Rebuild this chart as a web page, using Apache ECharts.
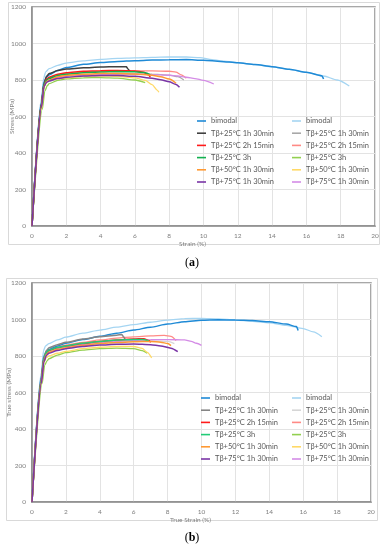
<!DOCTYPE html>
<html><head><meta charset="utf-8">
<script src="https://cdn.jsdelivr.net/npm/echarts@6/dist/echarts.min.js"></script>
<style>html,body{margin:0;padding:0;background:#fff}#c{width:386px;height:550px}</style>
</head><body><div id="c"></div>
<script>
// ---- legend labels / ticks ----
const labels = ['bimodal','Tβ+25°C 1h 30min','Tβ+25°C 2h 15min','Tβ+25°C 3h','Tβ+50°C 1h 30min','Tβ+75°C 1h 30min'];
const xTicks = {min:0, max:20, interval:2};
const yTicks = {min:0, max:1200, interval:200};

// ---- chart (a): engineering stress-strain [strain %, stress MPa] ----
const a_bimodal_d = [[0,0],[0.55,680],[0.7,790],[0.85,815],[1,828],[1.5,852],[2,868],[3,886],[4,896],[5,902],[6,906],[7,909],[8,911],[9,912],[10,908],[11,902],[12,894],[13,885],[14,873],[15,859],[16,842],[16.9,823],[17,805]];
const a_bimodal_l = [[0,0],[0.55,700],[0.68,810],[0.8,845],[1,862],[1.5,880],[2,893],[3,905],[4,913],[5,918],[6,921],[7,924],[8,926],[9,926],[9.8,923],[10.5,912],[11,905],[12,895],[13,884],[14,872],[15,858],[16,842],[17,822],[17.8,800],[18.5,767]];
const a_1h30_d = [[0,0],[0.55,670],[0.7,780],[0.85,820],[1,835],[1.5,852],[2,860],[3,867],[4,871],[5,873],[5.5,872],[5.6,860],[5.7,846]];
const a_1h30_l = [[0,0],[0.55,650],[0.7,770],[0.85,800],[1,810],[1.5,820],[2,825],[3,830],[4,832],[5,833],[6,833],[7,832],[8,827],[8.5,818],[8.85,800]];
const a_2h15_d = [[0,0],[0.55,665],[0.7,775],[0.85,805],[1,815],[1.5,832],[2,840],[3,848],[4,851],[5,852],[6,850],[6.5,842],[6.8,828],[6.9,815]];
const a_2h15_l = [[0,0],[0.55,665],[0.7,780],[0.85,805],[1,812],[1.5,828],[2,835],[3,843],[4,847],[5,849],[6,850],[7,850],[8,848],[8.4,843],[8.7,828],[9.0,809]];
const a_3h_d = [[0,0],[0.55,660],[0.7,775],[0.85,800],[1,808],[1.5,825],[2,832],[3,840],[4,844],[5,846],[6,845],[6.6,840],[6.9,828]];
const a_3h_l = [[0,0],[0.6,640],[0.75,740],[0.9,770],[1,780],[1.5,798],[2,806],[3,812],[4,813],[5,810],[6,800],[6.6,785]];
const a_50_d = [[0,0],[0.55,650],[0.7,765],[0.85,792],[1,800],[1.5,818],[2,825],[3,832],[4,835],[5,835],[6,833],[7,826],[7.5,818],[8,805],[8.4,782]];
const a_50_l = [[0,0],[0.55,640],[0.7,760],[0.85,788],[1,795],[1.5,806],[2,812],[3,820],[4,822],[5,820],[6,812],[6.6,798],[7,775],[7.3,745],[7.4,733]];
const a_75_d = [[0,0],[0.55,650],[0.7,765],[0.85,788],[1,795],[1.5,808],[2,815],[3,822],[4,825],[5,825],[6,820],[7,810],[7.5,802],[8,790],[8.4,775],[8.6,760]];
const a_75_l = [[0,0],[0.55,650],[0.7,768],[0.85,792],[1,800],[1.5,813],[2,820],[3,827],[4,830],[5,832],[6,832],[7,830],[8,826],[8.5,822],[9,815],[9.5,808],[10,798],[10.6,778]];

// ---- chart (b): true stress-strain [true strain %, true stress MPa] ----
const b_bimodal_d = [[0,0],[0.55,690],[0.7,800],[0.85,825],[1,836],[1.5,855],[2,870],[3,890],[4,908],[5,925],[6,942],[7,958],[8,975],[9,988],[10,996],[11,998],[12,997],[13,994],[14,988],[15,975],[15.6,961],[15.7,940]];
const b_bimodal_l = [[0,0],[0.55,710],[0.68,830],[0.8,855],[1,868],[1.5,888],[2,903],[3,925],[4,942],[5,958],[6,972],[7,985],[8,997],[9,1005],[10,1006],[11,1003],[12,997],[13,990],[14,982],[15,968],[16,950],[16.6,932],[17.1,906]];
const b_1h30_d = [[0,0],[0.55,680],[0.7,790],[0.85,830],[1,845],[1.5,862],[2,875],[3,893],[4,905],[5,914],[5.3,918],[5.4,905],[5.5,890]];
const b_1h30_l = [[0,0],[0.55,660],[0.7,780],[0.85,815],[1,825],[1.5,840],[2,850],[3,862],[4,870],[5,876],[6,880],[7,882],[8,880],[8.4,868]];
const b_2h15_d = [[0,0],[0.55,670],[0.7,785],[0.85,818],[1,830],[1.5,845],[2,855],[3,868],[4,880],[5,888],[6,893],[6.6,895],[6.9,885],[7.0,875]];
const b_2h15_l = [[0,0],[0.55,670],[0.7,788],[0.85,822],[1,835],[1.5,850],[2,860],[3,875],[4,888],[5,898],[6,905],[7,910],[7.8,913],[8.2,908],[8.5,885]];
const b_3h_d = [[0,0],[0.55,668],[0.7,785],[0.85,820],[1,832],[1.5,846],[2,855],[3,870],[4,880],[5,887],[6,890],[6.5,890],[6.9,882]];
const b_3h_l = [[0,0],[0.6,650],[0.75,750],[0.9,775],[1,785],[1.5,805],[2,818],[3,832],[4,840],[5,843],[6,840],[6.5,830],[6.8,815]];
const b_50_d = [[0,0],[0.55,655],[0.7,772],[0.85,808],[1,820],[1.5,835],[2,845],[3,858],[4,868],[5,874],[6,878],[7,880],[7.6,876],[8.0,868],[8.2,857]];
const b_50_l = [[0,0],[0.55,645],[0.7,765],[0.85,792],[1,800],[1.5,815],[2,825],[3,840],[4,848],[5,852],[6,852],[6.5,842],[6.8,820],[7.06,790]];
const b_75_d = [[0,0],[0.55,650],[0.7,768],[0.85,803],[1,815],[1.5,830],[2,840],[3,852],[4,860],[5,864],[6,866],[7,862],[7.6,855],[8.2,843],[8.6,824]];
const b_75_l = [[0,0],[0.55,655],[0.7,772],[0.85,808],[1,820],[1.5,836],[2,848],[3,862],[4,872],[5,880],[6,886],[7,889],[8,890],[9,888],[9.4,880],[9.7,870],[10,858]];

// ---- colours ----
const colA_d = ['#1f8ad6','#404040','#ff1a1a','#12b04f','#ff9933','#7a35a6'];
const colA_l = ['#a5d5f2','#a8a8a8','#ff8a85','#92d050','#ffd966','#d48ce6'];
const colB_d = ['#1f8ad6','#858585','#ff1a1a','#22cc77','#ff9933','#7a35a6'];
const colB_l = ['#a5d5f2','#d6d6d6','#ff8a85','#92d050','#ffd966','#d48ce6'];

const dataA_d = [a_bimodal_d,a_1h30_d,a_2h15_d,a_3h_d,a_50_d,a_75_d];
const dataA_l = [a_bimodal_l,a_1h30_l,a_2h15_l,a_3h_l,a_50_l,a_75_l];
const dataB_d = [b_bimodal_d,b_1h30_d,b_2h15_d,b_3h_d,b_50_d,b_75_d];
const dataB_l = [b_bimodal_l,b_1h30_l,b_2h15_l,b_3h_l,b_50_l,b_75_l];

const FONT = 'Lato';
const series = [];
function addSeries(prefix, datas, cols, idx, width, z){
  datas.forEach((d,i)=>{
    series.push({
      name: prefix + i + '|' + labels[i],
      type:'line', xAxisIndex: idx, yAxisIndex: idx,
      data: d, showSymbol:false, symbol:'none',
      smooth:0.25, smoothMonotone:'x',
      lineStyle:{color:cols[i], width:width}, itemStyle:{color:cols[i]},
      z: z, animation:false
    });
  });
}
addSeries('aL', dataA_l, colA_l, 0, 1.3, 2);
addSeries('aD', dataA_d, colA_d, 0, 1.5, 3);
addSeries('bL', dataB_l, colB_l, 1, 1.3, 2);
addSeries('bD', dataB_d, colB_d, 1, 1.5, 3);

function legend(prefix, left, top){
  return {
    orient:'vertical', left:left, top:top, padding:0,
    data: labels.map((l,i)=>prefix + i + '|' + l),
    icon:'rect', itemWidth:9, itemHeight:1.6, itemGap:0.2,
    selectedMode:false,
    formatter: n => n.split('|')[1],
    textStyle:{fontFamily:FONT, fontSize:7.5, color:'#595959', lineHeight:12}
  };
}

const axisLbl = {fontFamily:FONT, fontSize:6.5, color:'#7f7f7f', formatter: v => String(v)};
function xAxis(idx, name){
  return {gridIndex:idx, type:'value', min:xTicks.min, max:xTicks.max, interval:xTicks.interval,
    name:name, nameLocation:'middle', nameGap:14, nameMoveOverlap:false,
    nameTextStyle:{fontFamily:FONT, fontSize:6.5, color:'#7f7f7f', padding:[0,22,0,0]},
    axisLine:{show:true, lineStyle:{color:'#8c8c8c', width:1.5}},
    axisTick:{show:false}, axisLabel:Object.assign({margin:6}, axisLbl),
    splitLine:{show:true, lineStyle:{color:'#e3e3e3', width:1}}};
}
function yAxis(idx, name, gap){
  return {gridIndex:idx, type:'value', min:yTicks.min, max:yTicks.max, interval:yTicks.interval,
    name:name, nameLocation:'middle', nameGap:gap, nameMoveOverlap:false,
    nameTextStyle:{fontFamily:FONT, fontSize:6.5, color:'#7f7f7f'},
    axisLine:{show:true, lineStyle:{color:'#8c8c8c', width:1.5}},
    axisTick:{show:false}, axisLabel:Object.assign({margin:6}, axisLbl),
    splitLine:{show:true, lineStyle:{color:'#e3e3e3', width:1}}};
}

const chart = echarts.init(document.getElementById('c'), null, {renderer:'canvas'});
chart.setOption({
  backgroundColor:'#fff',
  animation:false,
  grid:[
    {left:32, right:11, top:7, bottom:324, show:true, borderColor:'#8c8c8c', borderWidth:1.5, containLabel:false, outerBoundsMode:'none'},
    {left:32, right:15, top:283, bottom:48, show:true, borderColor:'#8c8c8c', borderWidth:1.5, containLabel:false, outerBoundsMode:'none'}
  ],
  xAxis:[xAxis(0,'Strain (%)'), xAxis(1,'True Strain (%)')],
  yAxis:[yAxis(0,'Stress (MPa)',17), yAxis(1,'True stress (MPa)',20)],
  legend:[legend('aD',197,115), legend('aL',292,115), legend('bD',201,392), legend('bL',292,392)],
  graphic:[
    {type:'rect', shape:{x:8.5,y:2.5,width:371,height:242}, style:{fill:'none', stroke:'#d9d9d9', lineWidth:1}, silent:true},
    {type:'rect', shape:{x:6.5,y:278.5,width:371,height:242}, style:{fill:'none', stroke:'#d9d9d9', lineWidth:1}, silent:true},
    {type:'text', x:192, y:263, style:{text:'({b|a})', fontFamily:'Liberation Serif', fontSize:12, fill:'#000', textAlign:'center', textVerticalAlign:'middle', rich:{b:{fontWeight:'bold', fontFamily:'Liberation Serif', fontSize:12}}}},
    {type:'text', x:192, y:538, style:{text:'({b|b})', fontFamily:'Liberation Serif', fontSize:12, fill:'#000', textAlign:'center', textVerticalAlign:'middle', rich:{b:{fontWeight:'bold', fontFamily:'Liberation Serif', fontSize:12}}}}
  ],
  series: series
});
</script>
</body></html>
